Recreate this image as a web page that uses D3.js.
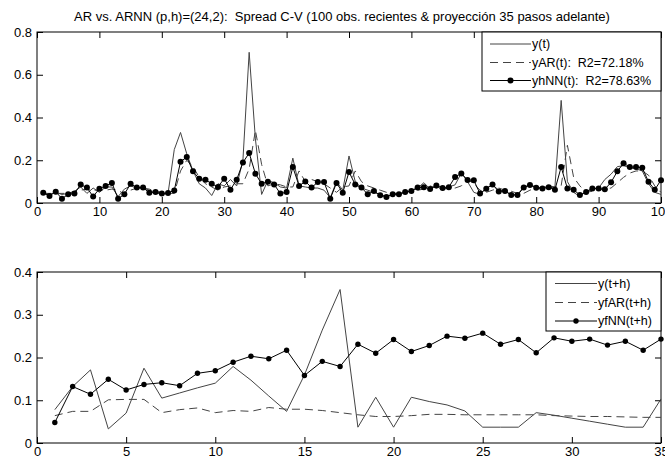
<!DOCTYPE html>
<html>
<head>
<meta charset="utf-8">
<script src="https://cdn.jsdelivr.net/npm/d3@7"></script>
<style>
  html, body { margin: 0; padding: 0; background: #fff; }
  svg { display: block; font-family: "Liberation Sans", Arial, Helvetica, sans-serif; }
  svg text { white-space: pre; }
  .tick text { font-size: 13px; fill: #000; }
  .tick line { stroke: #000; }
</style>
</head>
<body>
<svg id="chart" width="665" height="460"></svg>
<script>
// In-sample series: observed spread, AR fit and ARNN fit (last 100 obs.)
const tIn = d3.range(1, 101);
const yObs = [
  0.045,0.040,0.050,0.040,0.045,0.055,0.075,0.045,0.070,0.050,
  0.075,0.075,0.030,0.065,0.080,0.070,0.070,0.060,0.050,0.040,
  0.045,0.250,0.330,0.230,0.150,0.090,0.070,0.035,0.090,0.080,
  0.110,0.080,0.200,0.705,0.300,0.040,0.105,0.095,0.075,0.070,
  0.210,0.080,0.075,0.070,0.070,0.060,0.025,0.100,0.060,0.220,
  0.100,0.070,0.060,0.050,0.040,0.030,0.040,0.045,0.050,0.060,
  0.070,0.095,0.065,0.080,0.060,0.075,0.085,0.140,0.100,0.050,
  0.040,0.070,0.085,0.060,0.055,0.040,0.040,0.075,0.085,0.075,
  0.070,0.080,0.075,0.480,0.100,0.050,0.030,0.055,0.065,0.070,
  0.110,0.135,0.170,0.175,0.165,0.160,0.150,0.090,0.050,0.040
];
const yAR = [
  0.045,0.045,0.045,0.045,0.045,0.050,0.060,0.065,0.060,0.060,
  0.060,0.065,0.060,0.040,0.060,0.070,0.070,0.065,0.055,0.050,
  0.045,0.045,0.150,0.200,0.170,0.120,0.090,0.075,0.060,0.075,
  0.080,0.090,0.090,0.160,0.340,0.180,0.080,0.090,0.085,0.075,
  0.075,0.150,0.100,0.110,0.100,0.090,0.070,0.050,0.075,0.080,
  0.150,0.100,0.080,0.070,0.060,0.050,0.045,0.045,0.050,0.055,
  0.060,0.065,0.080,0.070,0.075,0.065,0.070,0.080,0.110,0.090,
  0.060,0.050,0.060,0.070,0.060,0.055,0.045,0.045,0.060,0.070,
  0.070,0.070,0.075,0.080,0.270,0.120,0.080,0.050,0.055,0.060,
  0.065,0.070,0.095,0.120,0.140,0.150,0.150,0.130,0.080,0.050
];
const yhNN = [
  0.048,0.033,0.053,0.020,0.041,0.044,0.086,0.072,0.030,0.067,
  0.080,0.094,0.020,0.041,0.090,0.072,0.072,0.048,0.051,0.044,
  0.047,0.059,0.193,0.215,0.148,0.114,0.109,0.090,0.075,0.114,
  0.062,0.109,0.189,0.234,0.137,0.090,0.100,0.087,0.044,0.051,
  0.168,0.080,0.101,0.072,0.098,0.098,0.020,0.094,0.048,0.145,
  0.086,0.072,0.041,0.056,0.036,0.028,0.041,0.041,0.051,0.056,
  0.072,0.074,0.066,0.082,0.070,0.074,0.122,0.138,0.108,0.106,
  0.044,0.067,0.086,0.054,0.056,0.037,0.037,0.072,0.084,0.071,
  0.068,0.074,0.062,0.168,0.068,0.062,0.037,0.052,0.068,0.068,
  0.064,0.097,0.148,0.186,0.168,0.168,0.165,0.099,0.062,0.107
];

// Out-of-sample: 35 steps ahead
const tOut = d3.range(1, 36);
const yFut = [
  0.078,0.132,0.171,0.033,0.070,0.175,0.105,0.117,0.129,0.140,
  0.179,0.147,0.110,0.074,0.159,0.264,0.359,0.037,0.107,0.037,
  0.107,0.097,0.089,0.075,0.037,0.037,0.037,0.071,0.065,0.058,
  0.051,0.044,0.037,0.037,0.103
];
const yfAR = [
  0.064,0.074,0.074,0.101,0.102,0.102,0.071,0.078,0.082,0.071,
  0.076,0.074,0.083,0.079,0.079,0.076,0.071,0.066,0.062,0.062,
  0.064,0.067,0.067,0.066,0.066,0.066,0.066,0.066,0.064,0.063,
  0.062,0.062,0.061,0.060,0.060
];
const yfNN = [
  0.048,0.132,0.114,0.149,0.124,0.137,0.141,0.134,0.163,0.169,
  0.189,0.203,0.197,0.217,0.158,0.191,0.179,0.231,0.210,0.242,
  0.214,0.228,0.250,0.245,0.257,0.231,0.242,0.211,0.246,0.238,
  0.243,0.229,0.238,0.217,0.243
];

const topYTicks = [0, 0.2, 0.4, 0.6, 0.8];
const topXTicks = [0, 10, 20, 30, 40, 50, 60, 70, 80, 90, 100];
const botYTicks = [0, 0.1, 0.2, 0.3, 0.4];
const botXTicks = [0, 5, 10, 15, 20, 25, 30, 35];

const titleText = "AR vs. ARNN (p,h)=(24,2):  Spread C-V (100 obs. recientes & proyección 35 pasos adelante)";
const legendTop = ["y(t)", "yAR(t):  R2=72.18%", "yhNN(t):  R2=78.63%"];
const legendBot = ["y(t+h)", "yfAR(t+h)", "yfNN(t+h)"];

const svg = d3.select("#chart");
const L = 37, R = 661, TICK = 6;
const LINE_GREY = "#444";
const DASH = "8,5";

function panel(cfg) {
  const x = d3.scaleLinear().domain(cfg.xDomain).range([L, R]);
  const y = d3.scaleLinear().domain(cfg.yDomain).range([cfg.bottom, cfg.top]);
  const g = svg.append("g");

  g.append("g").attr("transform", `translate(0,${cfg.bottom})`)
    .call(d3.axisBottom(x).tickValues(cfg.xTicks).tickFormat(d3.format("d"))
      .tickSizeInner(-TICK).tickSizeOuter(0).tickPadding(4))
    .call(a => a.select(".domain").remove());
  g.append("g").attr("transform", `translate(0,${cfg.top})`)
    .call(d3.axisTop(x).tickValues(cfg.xTicks).tickFormat("")
      .tickSizeInner(-TICK).tickSizeOuter(0))
    .call(a => a.select(".domain").remove());
  g.append("g").attr("transform", `translate(${L},0)`)
    .call(d3.axisLeft(y).tickValues(cfg.yTicks).tickFormat(d => d === 0 ? "0" : d3.format(".1f")(d))
      .tickSizeInner(-TICK).tickSizeOuter(0).tickPadding(5))
    .call(a => a.select(".domain").remove());
  g.append("g").attr("transform", `translate(${R},0)`)
    .call(d3.axisRight(y).tickValues(cfg.yTicks).tickFormat("")
      .tickSizeInner(-TICK).tickSizeOuter(0))
    .call(a => a.select(".domain").remove());

  g.append("rect").attr("x", L).attr("y", cfg.top)
    .attr("width", R - L).attr("height", cfg.bottom - cfg.top)
    .attr("fill", "none").attr("stroke", "#000").attr("stroke-width", 1);

  const line = d3.line().x(d => x(d[0])).y(d => y(d[1]));
  const pts = arr => cfg.t.map((t, i) => [t, arr[i]]);

  g.append("path").datum(pts(cfg.s1)).attr("d", line)
    .attr("fill", "none").attr("stroke", LINE_GREY).attr("stroke-width", 1);
  g.append("path").datum(pts(cfg.s2)).attr("d", line)
    .attr("fill", "none").attr("stroke", LINE_GREY).attr("stroke-width", 1)
    .attr("stroke-dasharray", DASH);
  g.append("path").datum(pts(cfg.s3)).attr("d", line)
    .attr("fill", "none").attr("stroke", "#000").attr("stroke-width", 1);
  g.selectAll("circle.nn").data(pts(cfg.s3)).join("circle")
    .attr("class", "nn").attr("cx", d => x(d[0])).attr("cy", d => y(d[1]))
    .attr("r", cfg.r).attr("fill", "#000");

  // legend box in the upper-right corner
  const lg = cfg.legend;
  g.append("rect").attr("x", lg.x).attr("y", cfg.top)
    .attr("width", R - lg.x).attr("height", lg.h)
    .attr("fill", "#fff").attr("stroke", "#000").attr("stroke-width", 1);
  lg.labels.forEach((lab, i) => {
    const yy = cfg.top + lg.rows[i];
    const ln = g.append("line").attr("x1", lg.x1).attr("x2", lg.x2)
      .attr("y1", yy).attr("y2", yy)
      .attr("stroke", i === 2 ? "#000" : LINE_GREY).attr("stroke-width", 1);
    if (i === 1) ln.attr("stroke-dasharray", DASH);
    if (i === 2) g.append("circle").attr("cx", (lg.x1 + lg.x2) / 2).attr("cy", yy)
      .attr("r", cfg.r).attr("fill", "#000");
    g.append("text").attr("x", lg.x2 + 1).attr("y", yy).attr("dy", "0.35em")
      .attr("font-size", lg.fs).attr("fill", "#000").text(lab);
  });
}

svg.append("text").attr("x", 342).attr("y", 21)
  .attr("text-anchor", "middle").attr("font-size", 13).attr("fill", "#000")
  .text(titleText);

panel({
  xDomain: [0, 100], yDomain: [0, 0.8], top: 32, bottom: 203,
  xTicks: topXTicks, yTicks: topYTicks, t: tIn,
  s1: yObs, s2: yAR, s3: yhNN, r: 3,
  legend: { x: 482, h: 59, x1: 490, x2: 531, rows: [12, 30.5, 48.5], labels: legendTop, fs: 12.5 }
});

panel({
  xDomain: [0, 35], yDomain: [0, 0.4], top: 272, bottom: 443,
  xTicks: botXTicks, yTicks: botYTicks, t: tOut,
  s1: yFut, s2: yfAR, s3: yfNN, r: 2.7,
  legend: { x: 546, h: 59, x1: 555, x2: 597, rows: [11.5, 30.5, 49], labels: legendBot, fs: 12.5 }
});
</script>
</body>
</html>
